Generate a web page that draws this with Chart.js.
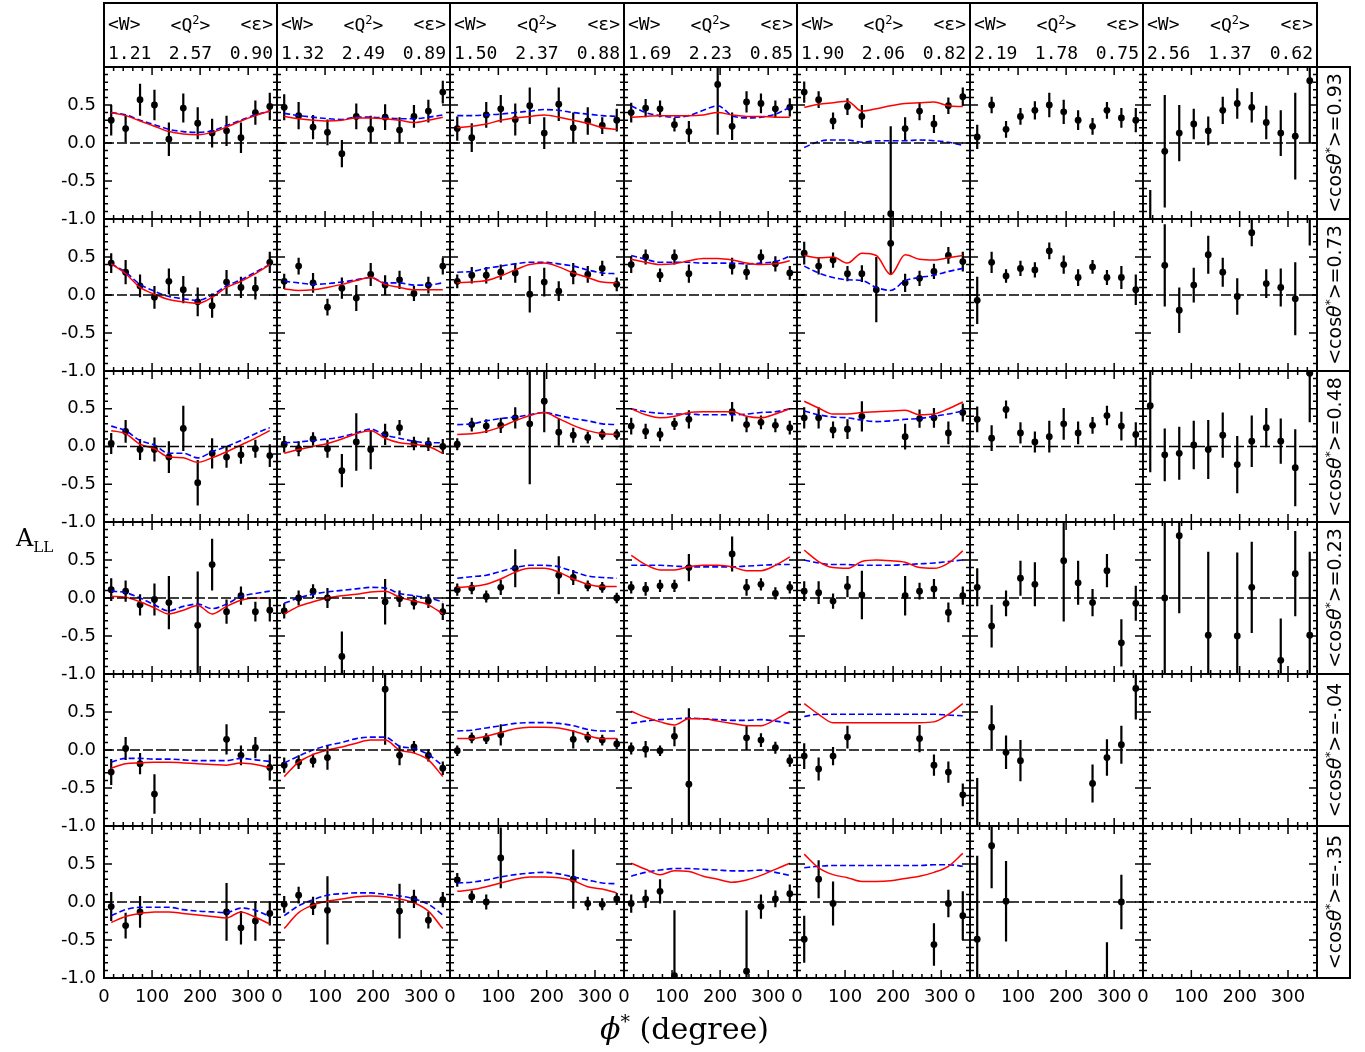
<!DOCTYPE html>
<html><head><meta charset="utf-8">
<script src="https://cdn.jsdelivr.net/npm/chart.js@4.4.1/dist/chart.umd.min.js"></script>
<style>
html,body{margin:0;padding:0;background:#fff;}
body{width:1365px;height:1052px;position:relative;overflow:hidden;}
canvas{position:absolute;}
.cell{position:absolute;box-sizing:border-box;border:2px solid #000;font-family:'DejaVu Sans Mono',monospace;font-size:18px;color:#000;}
.line{position:absolute;left:3px;right:3px;display:flex;justify-content:space-between;white-space:nowrap;}
.rcell{position:absolute;box-sizing:border-box;border:2px solid #000;}
.rlab{position:absolute;left:50%;top:50%;transform:translate(-50%,-50%) rotate(-90deg);white-space:nowrap;font-family:'DejaVu Sans',sans-serif;font-size:19px;color:#000;}
.title{position:absolute;font-family:'DejaVu Serif',serif;color:#000;white-space:nowrap;}
</style></head><body>
<script>
// ---------- data ----------
const phiBins = [15,45,75,105,135,165,195,225,255,285,315,345];
const xTicks = [0,100,200,300];
const yTicks = [-1,-0.5,0,0.5];
const meanW   = ['1.21','1.32','1.50','1.69','1.90','2.19','2.56'];
const meanQ2  = ['2.57','2.49','2.37','2.23','2.06','1.78','1.37'];
const meanEps = ['0.90','0.89','0.88','0.85','0.82','0.75','0.62'];
const cosTheta = ['0.93','0.73','0.48','0.23','-.04','-.35'];
const _ = null;

// row 1 (<cos>=0.93)
const ALL_r1c1=[0.30,0.19,0.57,0.50,0.05,0.46,0.26,0.13,0.16,0.07,0.40,0.48];
const err_r1c1=[0.20,0.18,0.21,0.20,0.22,0.19,0.21,0.19,0.20,0.20,0.16,0.18];
const red_r1c1=[0.40,0.36,0.29,0.22,0.15,0.12,0.11,0.14,0.21,0.29,0.36,0.42];
const blue_r1c1=[0.40,0.37,0.30,0.24,0.18,0.15,0.14,0.16,0.23,0.30,0.37,0.42];
const ALL_r1c2=[0.47,0.36,0.21,0.14,-0.14,0.35,0.18,0.34,0.17,0.35,0.42,0.67];
const err_r1c2=[0.17,0.18,0.16,0.17,0.18,0.17,0.18,0.17,0.17,0.15,0.15,0.15];
const red_r1c2=[0.35,0.32,0.30,0.29,0.30,0.33,0.33,0.32,0.30,0.27,0.30,0.34];
const blue_r1c2=[0.39,0.36,0.34,0.32,0.31,0.34,0.34,0.33,0.32,0.32,0.34,0.37];
const ALL_r1c3=[0.19,0.07,0.37,0.45,0.31,0.49,0.13,0.51,0.20,0.29,0.23,0.30];
const err_r1c3=[0.16,0.19,0.17,0.18,0.21,0.24,0.21,0.22,0.20,0.18,0.11,0.15];
const red_r1c3=[0.20,0.22,0.25,0.30,0.33,0.35,0.37,0.34,0.30,0.26,0.20,0.18];
const blue_r1c3=[0.36,0.36,0.37,0.38,0.40,0.42,0.44,0.43,0.40,0.38,0.36,0.35];
const ALL_r1c4=[0.40,0.46,0.45,0.24,0.15,_,0.77,0.22,0.54,0.52,0.45,0.47];
const err_r1c4=[0.13,0.12,0.11,0.09,0.14,_,0.66,0.18,0.14,0.13,0.11,0.12];
const red_r1c4=[0.34,0.35,0.36,0.36,0.36,0.37,0.40,0.37,0.35,0.35,0.34,0.34];
const blue_r1c4=[0.49,0.40,0.36,0.34,0.36,0.43,0.49,0.36,0.33,0.34,0.38,0.47];
const ALL_r1c5=[0.67,0.57,0.29,0.48,0.35,_,-0.93,0.19,0.42,0.25,0.49,0.61];
const err_r1c5=[0.14,0.11,0.11,0.11,0.15,_,1.15,0.15,0.12,0.12,0.11,0.12];
const red_r1c5=[0.47,0.51,0.53,0.55,0.42,0.45,0.49,0.52,0.53,0.54,0.49,0.48];
const blue_r1c5=[-0.06,0.02,0.04,0.04,0.01,0.03,0.03,0.03,0.04,0.03,0.01,-0.03];
const ALL_r1c6=[0.08,0.50,0.18,0.35,0.43,0.50,0.41,0.30,0.22,0.43,0.33,0.30];
const err_r1c6=[0.16,0.11,0.11,0.11,0.12,0.16,0.16,0.13,0.11,0.11,0.13,0.16];
const ALL_r1c7=[-1.15,-0.11,0.13,0.25,0.16,0.43,0.52,0.47,0.27,0.13,0.09,0.82];
const err_r1c7=[0.53,0.74,0.37,0.20,0.19,0.18,0.20,0.20,0.22,0.30,0.57,0.82];

// row 2 (<cos>=0.73)
const ALL_r2c1=[0.42,0.30,0.12,-0.03,0.18,0.07,-0.09,-0.14,0.17,0.10,0.09,0.43];
const err_r2c1=[0.13,0.16,0.15,0.15,0.17,0.18,0.19,0.16,0.16,0.14,0.15,0.14];
const red_r2c1=[0.41,0.28,0.10,0.01,-0.06,-0.09,-0.11,-0.03,0.10,0.18,0.28,0.40];
const blue_r2c1=[0.41,0.30,0.14,0.05,-0.02,-0.05,-0.07,0.00,0.12,0.20,0.30,0.40];
const ALL_r2c2=[0.18,0.38,0.16,-0.16,0.09,-0.04,0.27,0.13,0.20,0.02,0.13,0.38];
const err_r2c2=[0.10,0.11,0.13,0.11,0.14,0.17,0.15,0.13,0.12,0.10,0.11,0.11];
const red_r2c2=[0.08,0.06,0.07,0.10,0.14,0.19,0.23,0.14,0.10,0.07,0.07,0.07];
const blue_r2c2=[0.18,0.16,0.14,0.15,0.17,0.20,0.23,0.16,0.16,0.13,0.13,0.16];
const ALL_r2c3=[0.18,0.26,0.26,0.30,0.29,0.01,0.17,0.05,0.28,0.27,0.35,0.14];
const err_r2c3=[0.09,0.11,0.11,0.10,0.13,0.24,0.19,0.13,0.14,0.11,0.10,0.09];
const red_r2c3=[0.16,0.17,0.19,0.25,0.33,0.40,0.42,0.37,0.29,0.23,0.17,0.16];
const blue_r2c3=[0.30,0.31,0.35,0.38,0.41,0.43,0.43,0.41,0.38,0.33,0.29,0.28];
const ALL_r2c4=[0.40,0.50,0.26,0.50,0.28,_,_,0.38,0.30,0.50,0.41,0.29];
const err_r2c4=[0.11,0.10,0.09,0.10,0.12,_,_,0.11,0.10,0.10,0.10,0.09];
const red_r2c4=[0.47,0.43,0.40,0.41,0.45,0.48,0.48,0.46,0.42,0.40,0.41,0.45];
const blue_r2c4=[0.52,0.47,0.43,0.43,0.43,0.42,0.42,0.42,0.41,0.42,0.44,0.51];
const ALL_r2c5=[0.55,0.38,0.46,0.28,0.28,0.07,0.68,0.16,0.22,0.31,0.52,0.44];
const err_r2c5=[0.15,0.11,0.10,0.10,0.11,0.43,0.41,0.12,0.10,0.10,0.11,0.13];
const red_r2c5=[0.52,0.49,0.50,0.42,0.55,0.52,0.27,0.53,0.47,0.46,0.49,0.52];
const blue_r2c5=[0.38,0.29,0.23,0.20,0.19,0.10,0.06,0.19,0.23,0.26,0.31,0.35];
const ALL_r2c6=[-0.07,0.43,0.25,0.35,0.33,0.58,0.40,0.23,0.37,0.23,0.23,0.07];
const err_r2c6=[0.31,0.14,0.09,0.10,0.10,0.11,0.12,0.11,0.09,0.10,0.15,0.20];
const ALL_r2c7=[_,0.39,-0.20,0.13,0.53,0.30,-0.02,0.82,0.15,0.10,-0.05,1.25];
const err_r2c7=[_,0.54,0.30,0.23,0.25,0.19,0.24,0.18,0.19,0.25,0.48,0.60];

// row 3 (<cos>=0.48)
const ALL_r3c1=[0.04,0.20,-0.04,-0.04,-0.14,0.24,-0.48,-0.09,-0.14,-0.11,-0.03,-0.12];
const err_r3c1=[0.14,0.15,0.14,0.16,0.21,0.30,0.30,0.20,0.14,0.12,0.12,0.15];
const red_r3c1=[0.21,0.17,0.03,-0.03,-0.14,-0.15,-0.21,-0.15,-0.07,0.02,0.11,0.21];
const blue_r3c1=[0.27,0.21,0.08,0.02,-0.09,-0.09,-0.15,-0.07,0.00,0.08,0.17,0.25];
const ALL_r3c2=[0.03,-0.03,0.10,-0.03,-0.32,0.06,-0.04,0.16,0.25,0.04,0.03,0.00];
const err_r3c2=[0.11,0.10,0.09,0.12,0.22,0.38,0.26,0.14,0.10,0.09,0.09,0.10];
const red_r3c2=[-0.09,-0.04,0.00,0.04,0.10,0.17,0.21,0.11,0.05,0.03,0.00,-0.09];
const blue_r3c2=[0.05,0.06,0.08,0.10,0.13,0.18,0.23,0.15,0.11,0.07,0.05,0.05];
const ALL_r3c3=[0.03,0.29,0.27,0.28,0.38,0.30,0.60,0.19,0.15,0.12,0.16,0.16];
const err_r3c3=[0.08,0.09,0.09,0.10,0.14,0.80,0.41,0.18,0.10,0.08,0.07,0.07];
const red_r3c3=[0.16,0.17,0.20,0.26,0.34,0.41,0.45,0.37,0.28,0.21,0.17,0.16];
const blue_r3c3=[0.29,0.30,0.34,0.37,0.39,0.42,0.45,0.41,0.37,0.34,0.30,0.29];
const ALL_r3c4=[0.27,0.20,0.16,0.30,0.36,_,_,0.46,0.29,0.32,0.28,0.25];
const err_r3c4=[0.11,0.10,0.09,0.08,0.12,_,_,0.13,0.10,0.09,0.09,0.09];
const red_r3c4=[0.50,0.42,0.38,0.40,0.45,0.46,0.46,0.46,0.40,0.38,0.43,0.50];
const blue_r3c4=[0.50,0.46,0.44,0.43,0.43,0.42,0.42,0.42,0.43,0.45,0.46,0.50];
const ALL_r3c5=[0.38,0.38,0.22,0.23,0.40,_,_,0.13,0.37,0.38,0.18,0.45];
const err_r3c5=[0.14,0.14,0.11,0.13,0.20,_,_,0.17,0.12,0.13,0.15,0.12];
const red_r3c5=[0.60,0.51,0.43,0.43,0.45,0.46,0.47,0.48,0.42,0.43,0.50,0.59];
const blue_r3c5=[0.47,0.42,0.39,0.38,0.35,0.33,0.34,0.36,0.37,0.40,0.43,0.47];
const ALL_r3c6=[0.36,0.11,0.49,0.18,0.06,0.13,0.30,0.18,0.28,0.41,0.27,0.16];
const err_r3c6=[0.17,0.17,0.12,0.14,0.14,0.21,0.21,0.15,0.11,0.13,0.19,0.16];
const ALL_r3c7=[0.54,-0.11,-0.09,0.02,-0.04,0.15,-0.24,0.07,0.25,0.07,-0.28,0.97];
const err_r3c7=[0.88,0.35,0.35,0.32,0.39,0.30,0.38,0.34,0.26,0.30,0.51,0.65];

// row 4 (<cos>=0.23)
const ALL_r4c1=[0.11,0.09,-0.09,-0.02,-0.06,_,-0.36,0.44,-0.18,0.03,-0.18,-0.16];
const err_r4c1=[0.15,0.14,0.14,0.21,0.35,_,0.71,0.34,0.16,0.12,0.13,0.15];
const red_r4c1=[0.02,0.01,-0.05,-0.13,-0.21,-0.16,-0.10,-0.21,-0.11,-0.03,0.00,0.00];
const blue_r4c1=[0.09,0.07,0.00,-0.09,-0.17,-0.11,-0.08,-0.14,-0.08,0.02,0.06,0.09];
const ALL_r4c2=[-0.17,0.00,0.09,0.00,-0.77,_,_,-0.05,-0.01,-0.06,-0.04,-0.18];
const err_r4c2=[0.10,0.10,0.09,0.13,0.33,_,_,0.30,0.11,0.09,0.09,0.11];
const red_r4c2=[-0.21,-0.11,-0.05,0.00,0.03,0.05,0.08,0.09,0.01,-0.04,-0.09,-0.21];
const blue_r4c2=[-0.07,0.00,0.05,0.08,0.10,0.12,0.14,0.13,0.06,0.03,0.00,-0.05];
const ALL_r4c3=[0.11,0.13,0.02,0.14,0.39,_,_,0.30,0.27,0.16,0.14,0.00];
const err_r4c3=[0.08,0.08,0.08,0.10,0.25,_,_,0.25,0.10,0.07,0.07,0.07];
const red_r4c3=[0.14,0.15,0.18,0.25,0.34,0.39,0.39,0.34,0.25,0.18,0.15,0.15];
const blue_r4c3=[0.26,0.28,0.30,0.35,0.40,0.43,0.43,0.41,0.35,0.29,0.27,0.26];
const ALL_r4c4=[0.14,0.12,0.16,0.16,0.40,_,_,0.58,0.14,0.18,0.06,0.14];
const err_r4c4=[0.08,0.09,0.08,0.08,0.18,_,_,0.23,0.11,0.08,0.08,0.08];
const red_r4c4=[0.56,0.44,0.37,0.37,0.41,0.43,0.43,0.41,0.36,0.36,0.43,0.54];
const blue_r4c4=[0.43,0.43,0.43,0.42,0.41,0.41,0.41,0.41,0.42,0.43,0.44,0.44];
const ALL_r4c5=[0.09,0.07,-0.04,0.15,0.04,_,_,0.03,0.09,0.12,-0.19,0.03];
const err_r4c5=[0.13,0.15,0.10,0.14,0.32,_,_,0.26,0.11,0.13,0.13,0.12];
const red_r4c5=[0.63,0.48,0.40,0.39,0.48,0.50,0.49,0.47,0.40,0.39,0.46,0.62];
const blue_r4c5=[0.50,0.46,0.44,0.44,0.43,0.43,0.43,0.44,0.45,0.46,0.48,0.50];
const ALL_r4c6=[0.14,-0.37,-0.07,0.26,0.18,_,0.49,0.20,-0.06,0.36,-0.59,-0.07];
const err_r4c6=[0.25,0.28,0.17,0.23,0.29,_,0.80,0.29,0.18,0.22,0.31,0.23];
const ALL_r4c7=[_,0.00,0.82,_,-0.49,_,-0.50,0.14,_,-0.82,0.32,-0.49];
const err_r4c7=[_,1.00,1.02,_,1.10,_,1.10,0.60,_,0.55,0.56,1.10];

// row 5 (<cos>=-.04)
const ALL_r5c1=[-0.29,0.02,-0.18,-0.58,_,_,_,_,0.14,-0.07,0.03,-0.23];
const err_r5c1=[0.17,0.15,0.14,0.26,_,_,_,_,0.20,0.13,0.14,0.17];
const red_r5c1=[-0.24,-0.18,-0.17,-0.16,-0.16,-0.17,-0.18,-0.19,-0.20,-0.17,-0.19,-0.23];
const blue_r5c1=[-0.16,-0.11,-0.11,-0.12,-0.12,-0.13,-0.14,-0.14,-0.14,-0.11,-0.13,-0.15];
const ALL_r5c2=[-0.20,-0.16,-0.14,-0.10,_,_,_,0.80,-0.07,0.04,-0.07,-0.24];
const err_r5c2=[0.10,0.09,0.09,0.16,_,_,_,0.73,0.13,0.08,0.08,0.09];
const red_r5c2=[-0.35,-0.16,-0.06,0.00,0.04,0.09,0.13,0.13,0.00,-0.04,-0.13,-0.35];
const blue_r5c2=[-0.17,-0.08,0.00,0.06,0.10,0.15,0.17,0.17,0.05,0.02,-0.06,-0.21];
const ALL_r5c3=[-0.01,0.16,0.15,0.20,_,_,_,_,0.14,0.17,0.13,0.08];
const err_r5c3=[0.07,0.07,0.07,0.14,_,_,_,_,0.12,0.07,0.07,0.07];
const red_r5c3=[0.15,0.15,0.18,0.23,0.28,0.30,0.30,0.29,0.25,0.19,0.15,0.15];
const blue_r5c3=[0.25,0.26,0.29,0.32,0.35,0.36,0.36,0.35,0.32,0.27,0.25,0.25];
const ALL_r5c4=[0.02,0.01,-0.01,0.18,-0.45,_,_,_,0.16,0.13,0.03,-0.14];
const err_r5c4=[0.08,0.11,0.07,0.13,1.00,_,_,_,0.16,0.09,0.08,0.08];
const red_r5c4=[0.51,0.43,0.37,0.33,0.41,0.41,0.38,0.35,0.32,0.32,0.40,0.51];
const blue_r5c4=[0.35,0.38,0.40,0.41,0.42,0.41,0.40,0.39,0.39,0.40,0.38,0.35];
const ALL_r5c5=[-0.08,-0.25,-0.08,0.17,_,_,_,_,0.15,-0.20,-0.29,-0.59];
const err_r5c5=[0.17,0.15,0.12,0.15,_,_,_,_,0.18,0.14,0.14,0.15];
const red_r5c5=[0.61,0.47,0.36,0.36,0.36,0.36,0.36,0.36,0.36,0.37,0.47,0.61];
const blue_r5c5=[0.44,0.47,0.47,0.47,0.47,0.47,0.47,0.47,0.47,0.47,0.46,0.45];
const ALL_r5c6=[-1.20,0.30,-0.03,-0.14,_,_,_,_,-0.44,-0.10,0.07,0.81];
const err_r5c6=[0.83,0.29,0.22,0.27,_,_,_,_,0.25,0.24,0.25,0.41];
const ALL_r5c7=[_,_,_,_,_,_,_,_,_,_,_,_];
const err_r5c7=[_,_,_,_,_,_,_,_,_,_,_,_];

// row 6 (<cos>=-.35)
const ALL_r6c1=[-0.06,-0.31,-0.13,_,_,_,_,_,-0.13,-0.34,-0.25,-0.15];
const err_r6c1=[0.19,0.17,0.21,_,_,_,_,_,0.38,0.22,0.26,0.16];
const red_r6c1=[-0.27,-0.19,-0.15,-0.13,-0.13,-0.15,-0.17,-0.19,-0.21,-0.13,-0.20,-0.29];
const blue_r6c1=[-0.18,-0.10,-0.07,-0.07,-0.07,-0.10,-0.12,-0.13,-0.14,-0.08,-0.11,-0.19];
const ALL_r6c2=[-0.03,0.09,-0.05,-0.11,_,_,_,_,-0.12,0.04,-0.24,0.03];
const err_r6c2=[0.11,0.11,0.12,0.45,_,_,_,_,0.36,0.12,0.11,0.10];
const red_r6c2=[-0.35,-0.14,-0.04,0.01,0.04,0.07,0.08,0.07,0.04,-0.01,-0.12,-0.35];
const blue_r6c2=[-0.18,-0.05,0.03,0.09,0.11,0.12,0.12,0.10,0.08,0.04,-0.03,-0.17];
const ALL_r6c3=[0.29,0.07,0.00,0.58,_,_,_,_,0.30,-0.02,-0.03,0.04];
const err_r6c3=[0.09,0.08,0.10,0.40,_,_,_,_,0.39,0.09,0.08,0.08];
const red_r6c3=[0.14,0.16,0.20,0.25,0.30,0.33,0.33,0.32,0.28,0.20,0.17,0.12];
const blue_r6c3=[0.25,0.26,0.29,0.33,0.36,0.38,0.39,0.37,0.33,0.29,0.25,0.24];
const ALL_r6c4=[-0.02,0.04,0.14,-0.97,_,_,_,_,-0.91,-0.06,0.04,0.11];
const err_r6c4=[0.12,0.12,0.16,0.86,_,_,_,_,0.80,0.16,0.11,0.12];
const red_r6c4=[0.51,0.43,0.36,0.41,0.40,0.34,0.30,0.26,0.29,0.35,0.43,0.51];
const blue_r6c4=[0.34,0.39,0.42,0.44,0.44,0.43,0.42,0.41,0.41,0.42,0.39,0.35];
const ALL_r6c5=[-0.49,0.30,-0.02,_,_,_,_,_,_,-0.56,-0.02,-0.18];
const err_r6c5=[0.31,0.25,0.29,_,_,_,_,_,_,0.28,0.18,0.32];
const red_r6c5=[0.63,0.45,0.36,0.32,0.27,0.27,0.28,0.31,0.34,0.39,0.47,0.64];
const blue_r6c5=[0.45,0.47,0.48,0.48,0.48,0.48,0.48,0.48,0.48,0.49,0.49,0.47];
const ALL_r6c6=[-0.49,0.74,0.01,_,_,_,_,_,_,-1.30,0.00,_];
const err_r6c6=[1.10,0.56,0.53,_,_,_,_,_,_,0.77,0.36,_];
const ALL_r6c7=[_,_,_,_,_,_,_,_,_,_,_,_];
const err_r6c7=[_,_,_,_,_,_,_,_,_,_,_,_];

// table of panels built from the arrays above: [values, errors, red curve, blue curve]
const panels = [
 [[ALL_r1c1,err_r1c1,red_r1c1,blue_r1c1],[ALL_r1c2,err_r1c2,red_r1c2,blue_r1c2],[ALL_r1c3,err_r1c3,red_r1c3,blue_r1c3],[ALL_r1c4,err_r1c4,red_r1c4,blue_r1c4],[ALL_r1c5,err_r1c5,red_r1c5,blue_r1c5],[ALL_r1c6,err_r1c6,_,_],[ALL_r1c7,err_r1c7,_,_]],
 [[ALL_r2c1,err_r2c1,red_r2c1,blue_r2c1],[ALL_r2c2,err_r2c2,red_r2c2,blue_r2c2],[ALL_r2c3,err_r2c3,red_r2c3,blue_r2c3],[ALL_r2c4,err_r2c4,red_r2c4,blue_r2c4],[ALL_r2c5,err_r2c5,red_r2c5,blue_r2c5],[ALL_r2c6,err_r2c6,_,_],[ALL_r2c7,err_r2c7,_,_]],
 [[ALL_r3c1,err_r3c1,red_r3c1,blue_r3c1],[ALL_r3c2,err_r3c2,red_r3c2,blue_r3c2],[ALL_r3c3,err_r3c3,red_r3c3,blue_r3c3],[ALL_r3c4,err_r3c4,red_r3c4,blue_r3c4],[ALL_r3c5,err_r3c5,red_r3c5,blue_r3c5],[ALL_r3c6,err_r3c6,_,_],[ALL_r3c7,err_r3c7,_,_]],
 [[ALL_r4c1,err_r4c1,red_r4c1,blue_r4c1],[ALL_r4c2,err_r4c2,red_r4c2,blue_r4c2],[ALL_r4c3,err_r4c3,red_r4c3,blue_r4c3],[ALL_r4c4,err_r4c4,red_r4c4,blue_r4c4],[ALL_r4c5,err_r4c5,red_r4c5,blue_r4c5],[ALL_r4c6,err_r4c6,_,_],[ALL_r4c7,err_r4c7,_,_]],
 [[ALL_r5c1,err_r5c1,red_r5c1,blue_r5c1],[ALL_r5c2,err_r5c2,red_r5c2,blue_r5c2],[ALL_r5c3,err_r5c3,red_r5c3,blue_r5c3],[ALL_r5c4,err_r5c4,red_r5c4,blue_r5c4],[ALL_r5c5,err_r5c5,red_r5c5,blue_r5c5],[ALL_r5c6,err_r5c6,_,_],[ALL_r5c7,err_r5c7,_,_]],
 [[ALL_r6c1,err_r6c1,red_r6c1,blue_r6c1],[ALL_r6c2,err_r6c2,red_r6c2,blue_r6c2],[ALL_r6c3,err_r6c3,red_r6c3,blue_r6c3],[ALL_r6c4,err_r6c4,red_r6c4,blue_r6c4],[ALL_r6c5,err_r6c5,red_r6c5,blue_r6c5],[ALL_r6c6,err_r6c6,_,_],[ALL_r6c7,err_r6c7,_,_]]
];

// ---------- layout ----------
const colEdges = [104,277,450,624,797,970,1143,1317];
const rowEdges = [67,219,371,522,674,826,978];
const rightEdge = 1350;
const headerTop = 2;
const tickFont = {family:'DejaVu Sans', size:18};

const framePlugin = {
  id:'frame',
  afterDraw(chart){
    const {ctx, chartArea:a, scales:{x,y}} = chart;
    ctx.save();
    ctx.strokeStyle='#000'; ctx.lineWidth=1.5; ctx.beginPath();
    for(let v=0; v<=360; v+=20){
      const px=x.getPixelForValue(v); if(px>a.right+0.5) break;
      const len = v%100===0 ? 8 : 4;
      ctx.moveTo(px,a.bottom); ctx.lineTo(px,a.bottom-len);
      ctx.moveTo(px,a.top); ctx.lineTo(px,a.top+len);
    }
    for(let i=-10;i<=10;i++){
      const py=y.getPixelForValue(i/10);
      const len = i%5===0 ? 8 : 4;
      ctx.moveTo(a.left,py); ctx.lineTo(a.left+len,py);
      ctx.moveTo(a.right,py); ctx.lineTo(a.right-len,py);
    }
    ctx.stroke();
    ctx.lineWidth=2;
    ctx.strokeRect(a.left,a.top,a.right-a.left,a.bottom-a.top);
    ctx.restore();
  }
};

function fixedFit(size){
  return s=>{
    if(s.isHorizontal()) s.height=size; else s.width=size;
    s.paddingLeft=0; s.paddingRight=0; s.paddingTop=0; s.paddingBottom=0;
  };
}

function makePanel(r,c){
  const [vals, errs, red, blue] = panels[r][c];
  const showY = c===0, showX = r===5;
  const L = showY ? 70 : 24, R = 24, T = 12, B = showX ? 36 : 12;
  const w = colEdges[c+1]-colEdges[c], h = rowEdges[r+1]-rowEdges[r];
  const cv = document.createElement('canvas');
  cv.width = w+L+R; cv.height = h+T+B;
  cv.style.left = (colEdges[c]-L)+'px'; cv.style.top = (rowEdges[r]-T)+'px';
  cv.style.width = cv.width+'px'; cv.style.height = cv.height+'px';
  document.body.appendChild(cv);

  const pts=[], bars=[];
  phiBins.forEach((p,i)=>{
    if(vals[i]===null) return;
    pts.push({x:p,y:vals[i]});
    bars.push({x:p,y:vals[i]-errs[i]},{x:p,y:vals[i]+errs[i]},{x:p,y:null});
  });
  const empty = pts.length===0;
  const datasets = [
    {data:[{x:0,y:0},{x:360,y:0}], borderColor:'#000', borderWidth:1.3, borderDash: empty?[4,3]:[10,3], pointRadius:0},
  ];
  if(red) datasets.push({data:phiBins.map((p,i)=>({x:p,y:red[i]})), borderColor:'#ff0000', borderWidth:1.5, pointRadius:0, cubicInterpolationMode:'monotone'});
  if(blue) datasets.push({data:phiBins.map((p,i)=>({x:p,y:blue[i]})), borderColor:'#0000ff', borderWidth:1.6, borderDash:[6,3], pointRadius:0, cubicInterpolationMode:'monotone'});
  datasets.push({data:bars, borderColor:'#000', borderWidth:2.2, pointRadius:0, spanGaps:false});
  datasets.push({data:pts, showLine:false, pointRadius:3.4, pointBackgroundColor:'#000', pointBorderWidth:0, borderColor:'#000'});

  new Chart(cv,{
    type:'line',
    data:{datasets},
    plugins:[framePlugin],
    options:{
      responsive:false, animation:false, devicePixelRatio:1, events:[],
      layout:{padding:{left: showY?0:L, right:R, top:T, bottom: showX?0:B}},
      plugins:{legend:{display:false}, tooltip:{enabled:false}},
      scales:{
        x:{type:'linear', min:0, max:360, display: showX,
           afterFit: fixedFit(showX?B:0),
           afterBuildTicks: s=>{ s.ticks = xTicks.map(v=>({value:v})); },
           grid:{display:false, drawTicks:false}, border:{display:false},
           ticks:{padding:9, color:'#000', font:tickFont, maxRotation:0, autoSkip:false, callback:v=>String(v)}},
        y:{type:'linear', min:-1, max:1, display: showY,
           afterFit: fixedFit(showY?L:0),
           afterBuildTicks: s=>{ s.ticks = yTicks.map(v=>({value:v})); },
           grid:{display:false, drawTicks:false}, border:{display:false},
           ticks:{padding:8, color:'#000', font:tickFont, autoSkip:false, callback:v=>Number(v).toFixed(1)}}
      }
    }
  });
}

for(let r=0;r<6;r++) for(let c=0;c<7;c++) makePanel(r,c);

// header cells
for(let c=0;c<7;c++){
  const d=document.createElement('div');
  d.className='cell';
  d.style.left=(colEdges[c]-1)+'px'; d.style.top=headerTop+'px';
  d.style.width=(colEdges[c+1]-colEdges[c]+2)+'px'; d.style.height=(rowEdges[0]-headerTop+1)+'px';
  d.innerHTML='<div class="line" style="top:9px">&lt;W&gt;<span>&lt;Q<sup style="font-size:12px">2</sup>&gt;</span><span>&lt;ε&gt;</span></div>'+
              '<div class="line" style="top:38px"><span>'+meanW[c]+'</span><span>'+meanQ2[c]+'</span><span>'+meanEps[c]+'</span></div>';
  document.body.appendChild(d);
}
// right-side labels
for(let r=0;r<6;r++){
  const d=document.createElement('div');
  d.className='rcell';
  d.style.left=(colEdges[7]-1)+'px'; d.style.top=(rowEdges[r]-1)+'px';
  d.style.width=(rightEdge-colEdges[7]+2)+'px'; d.style.height=(rowEdges[r+1]-rowEdges[r]+2)+'px';
  d.innerHTML='<div class="rlab">&lt;cos<i>θ</i><sup style="font-size:12px">*</sup>&gt;='+cosTheta[r]+'</div>';
  document.body.appendChild(d);
}
// axis titles
const yt=document.createElement('div'); yt.className='title';
yt.style.left='16px'; yt.style.top='524px'; yt.style.fontSize='24px';
yt.innerHTML='A<sub style="font-size:15px">LL</sub>';
document.body.appendChild(yt);
const xt=document.createElement('div'); xt.className='title';
xt.style.left='600px'; xt.style.top='1010px'; xt.style.fontSize='30px';
xt.innerHTML='<i>ϕ</i><sup style="font-size:19px">*</sup> (degree)';
document.body.appendChild(xt);
</script>
</body></html>
